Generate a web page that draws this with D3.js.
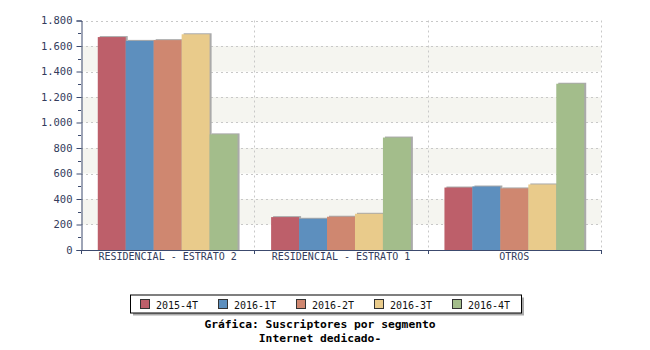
<!DOCTYPE html>
<html><head><meta charset="utf-8">
<script src="https://cdn.jsdelivr.net/npm/d3@7"></script>
<style>body{margin:0;background:#fff;}svg{display:block;}</style>
</head><body><svg id="c" width="650" height="350"></svg>
<script>
const categories = ["RESIDENCIAL - ESTRATO 2", "RESIDENCIAL - ESTRATO 1", "OTROS"];
const series = ["2015-4T", "2016-1T", "2016-2T", "2016-3T", "2016-4T"];
const v2015_4T = [1670, 258, 490];
const v2016_1T = [1640, 245, 498];
const v2016_2T = [1646, 261, 483];
const v2016_3T = [1692, 284, 514];
const v2016_4T = [907, 882, 1304];
const yTicks = [0, 200, 400, 600, 800, 1000, 1200, 1400, 1600, 1800];
const colors = ["#BD5F6A", "#5D8FBE", "#CF8770", "#E9CB8B", "#A3BD8B"];
const titleLines = ["Gráfica: Suscriptores por segmento", "Internet dedicado-"];

const values = [v2015_4T, v2016_1T, v2016_2T, v2016_3T, v2016_4T];
const svg = d3.select("#c");
const L = 81, R = 601, T = 20.5, B = 250;
const x0 = d3.scaleBand().domain(categories).range([L, R]).padding(0);
const x1 = d3.scaleBand().domain(series).range([0, x0.bandwidth()]).paddingInner(0).paddingOuter(0.6);
const y = d3.scaleLinear().domain([0, 1800]).range([B, T]);
const fmt = d3.formatLocale({decimal: ",", thousands: ".", grouping: [3], currency: ["", ""]}).format(",d");
const axisColor = "#3c4a6e", textColor = "#333c5c";
const mono = "'DejaVu Sans Mono', 'Liberation Mono', monospace";

// alternating bands
for (let i = 0; i < yTicks.length - 1; i++) {
  if (i % 2 === 1) {
    svg.append("rect").attr("x", L).attr("width", R - L)
      .attr("y", y(yTicks[i + 1])).attr("height", y(yTicks[i]) - y(yTicks[i + 1]))
      .attr("fill", "#f5f5f0");
  }
}
// horizontal grid
svg.append("g").selectAll("line").data(yTicks.slice(1)).join("line")
  .attr("x1", L).attr("x2", R).attr("y1", d => Math.round(y(d)) + 0.5).attr("y2", d => Math.round(y(d)) + 0.5)
  .attr("stroke", "#c8c8c8").attr("stroke-dasharray", "2,3");
// vertical grid at category boundaries
const bounds = categories.map(c => x0(c) + x0.bandwidth());
svg.append("g").selectAll("line").data(bounds).join("line")
  .attr("x1", d => Math.round(d) + 0.5).attr("x2", d => Math.round(d) + 0.5).attr("y1", T).attr("y2", B)
  .attr("stroke", "#c8c8c8").attr("stroke-dasharray", "2,3");

// bars
categories.forEach((c, ci) => {
  series.forEach((s, si) => {
    const v = values[si][ci];
    const bx = x0(c) + x1(s), bw = x1.bandwidth(), by = y(v), bh = B - y(v);
    svg.append("rect").attr("x", bx + 2).attr("y", by - 1).attr("width", bw).attr("height", bh + 1)
      .attr("fill", "#aaaaaa");
    svg.append("rect").attr("x", bx).attr("y", by).attr("width", bw).attr("height", bh)
      .attr("fill", colors[si]);
  });
});

// y axis
const minor = d3.range(100, 1800, 200);
svg.append("g").selectAll("line").data(minor).join("line")
  .attr("x1", L - 3).attr("x2", L).attr("y1", d => Math.round(y(d)) + 0.5).attr("y2", d => Math.round(y(d)) + 0.5)
  .attr("stroke", axisColor);
const yAxis = d3.axisLeft(y).tickValues(yTicks).tickFormat(fmt).tickSize(5).tickPadding(4);
const gy = svg.append("g").attr("transform", `translate(${L + 0.5},0)`).call(yAxis);
gy.select(".domain").attr("stroke", axisColor);
gy.selectAll(".tick line").attr("stroke", axisColor);
gy.selectAll(".tick text").attr("fill", textColor).attr("font-family", mono).attr("font-size", "10.5px");

// x axis
svg.append("line").attr("x1", L).attr("x2", R + 0.5).attr("y1", B + 0.5).attr("y2", B + 0.5).attr("stroke", axisColor);
svg.append("g").selectAll("line").data([L].concat(bounds)).join("line")
  .attr("x1", d => Math.round(d) + 0.5).attr("x2", d => Math.round(d) + 0.5).attr("y1", B).attr("y2", B + 4)
  .attr("stroke", axisColor);
svg.append("g").selectAll("text").data(categories).join("text")
  .attr("x", d => x0(d) + x0.bandwidth() / 2).attr("y", 259.5)
  .attr("text-anchor", "middle").attr("fill", textColor).attr("font-family", mono).attr("font-size", "10px")
  .text(d => d);

// legend
const lx = 130, ly = 294.5, lw = 391, lh = 18;
svg.append("rect").attr("x", lx + 3).attr("y", ly + 3).attr("width", lw).attr("height", lh).attr("fill", "#aaaaaa");
svg.append("rect").attr("x", lx + 0.5).attr("y", ly + 0.5).attr("width", lw).attr("height", lh)
  .attr("fill", "#fff").attr("stroke", "#000");
const lg = svg.append("g").selectAll("g").data(series).join("g")
  .attr("transform", (d, i) => `translate(${140 + i * 78},0)`);
lg.append("rect").attr("x", 0.5).attr("y", 299.5).attr("width", 9).attr("height", 9)
  .attr("fill", (d, i) => colors[i]).attr("stroke", "#333");
lg.append("text").attr("x", 16).attr("y", 308.5).attr("fill", "#111").attr("font-family", mono)
  .attr("font-size", "10px").text(d => d);

// title
svg.append("g").selectAll("text").data(titleLines).join("text")
  .attr("x", 320).attr("y", (d, i) => 328 + i * 13.5)
  .attr("text-anchor", "middle").attr("font-family", mono).attr("font-weight", "bold")
  .attr("font-size", "11.3px").attr("fill", "#000").text(d => d);
</script></body></html>
